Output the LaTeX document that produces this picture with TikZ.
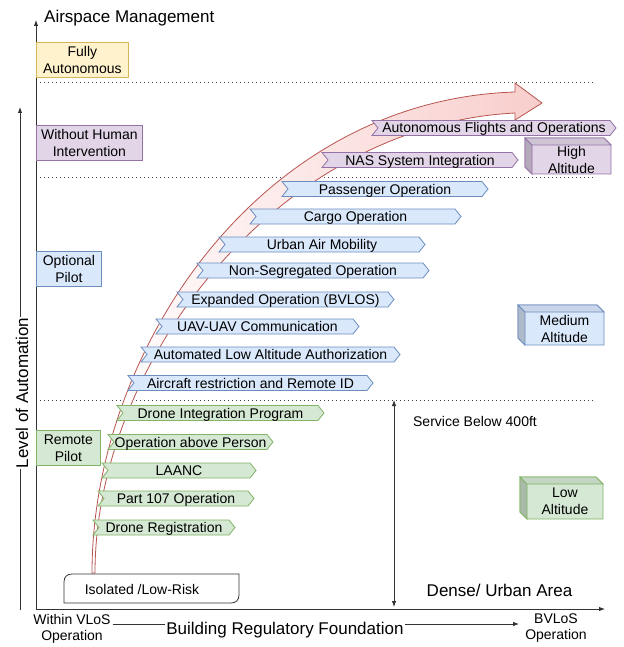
\documentclass[tikz,border=0pt]{standalone}
\usepackage{fontspec}
\setmainfont{Liberation Sans}
\usetikzlibrary{arrows.meta}
\definecolor{yellowfill}{HTML}{FFF2CC}\definecolor{yellowline}{HTML}{D6B656}
\definecolor{purplefill}{HTML}{E1D5E7}\definecolor{purpleline}{HTML}{9673A6}
\definecolor{bluefill}{HTML}{DAE8FC}\definecolor{blueline}{HTML}{6C8EBF}
\definecolor{greenfill}{HTML}{D5E8D4}\definecolor{greenline}{HTML}{82B366}
\definecolor{redfill}{HTML}{F8CECC}\definecolor{redline}{HTML}{B85450}
\definecolor{axisgray}{HTML}{333333}
\newcommand\chev[6]{%
  \draw[#2] (#3,#5-7.5) -- ({#4-6},#5-7.5) -- (#4,#5) -- ({#4-6},#5+7.5) -- (#3,#5+7.5) -- ({#3+6},#5) -- cycle;
  \node[lbl, anchor=base] (#1) at ({(#3+#4)/2},#5+5) {#6};}
\newcommand\cubebox[7]{% name, colour, L, T, R, B, text
  \draw[draw=#2line, fill=#2fill, line width=0.8pt] (#3,#4) -- ({#5-7},#4) -- (#5,#4+7) -- (#5,#6) -- ({#3+7},#6) -- (#3,#6-7) -- cycle;
  \draw[draw=#2line, fill=#2fill!80!black, line width=0.8pt] (#3,#4) -- ({#3+7},#4+7) -- ({#3+7},#6) -- (#3,#6-7) -- cycle;
  \draw[draw=#2line, fill=#2fill!92!black, line width=0.8pt] (#3,#4) -- ({#5-7},#4) -- (#5,#4+7) -- ({#3+7},#4+7) -- cycle;
  \node[lbl] (#1) at ({(#3+7+#5)/2},{(#4+7+#6)/2}) {#7};}
\tikzset{
  lbl/.style={font=\fontsize{14}{17}\selectfont, align=center, inner sep=0pt},
  big/.style={font=\fontsize{17}{20}\selectfont, inner sep=1pt},
  lvl/.style={draw=#1line, fill=#1fill, line width=0.8pt, minimum height=35pt, font=\fontsize{14}{17}\selectfont, align=center, inner sep=0pt, anchor=north west},
  ax/.style={line width=0.9pt, draw=axisgray, -{Latex[length=6pt,width=4.5pt]}},
  dax/.style={line width=0.8pt, draw=axisgray, {Latex[length=6pt,width=4.5pt]}-{Latex[length=6pt,width=4.5pt]}},
  dots/.style={line width=1pt, dash pattern=on 1pt off 3pt, draw=black!75},
  chb/.style={draw=blueline, fill=bluefill, line width=0.8pt},
  chp/.style={draw=purpleline, fill=purplefill, line width=0.8pt},
  chg/.style={draw=greenline, fill=greenfill, line width=0.8pt},
}
\begin{document}
\begin{tikzpicture}[x=1pt,y=-1pt]
\useasboundingbox (0,0) rectangle (623,647);
% dotted level separators
\draw[dots] (36,83) -- (593,83);
\draw[dots] (36,177) -- (593,177);
\draw[dots] (36,400) -- (593,400);
% axes
\coordinate (o) at (36,609);
\coordinate (ytop) at (36,20);
\coordinate (xend) at (605,609);
\draw[ax] (o) -- (ytop);
\draw[ax] (o) -- (xend);
\coordinate (lb) at (20,610);
\coordinate (lt) at (20,107);
\draw[ax] (lb) -- (lt);
\node[big, rotate=90, fill=white] (loa) at (22,393) {Level of Automation};
\node[big, anchor=base west, inner sep=0pt] (asm) at (44,23) {Airspace Management};
% level boxes
\node[lvl=yellow, minimum width=92pt] (fa) at (36,42) {Fully\\Autonomous};
\node[lvl=purple, minimum width=106pt] (whi) at (36,125) {Without Human\\Intervention};
\node[lvl=blue, minimum width=65pt] (op) at (36,251) {Optional\\Pilot};
\node[lvl=green, minimum width=64pt] (rp) at (36,430) {Remote\\Pilot};
% curved arrow
\shadedraw[draw=redline, line width=0.8pt, left color=white, right color=redfill]
  (92,573) .. controls (92,350) and (260,100) .. (515,92) -- (515,83) -- (542,103) -- (515,120) -- (515,113)
  .. controls (280,125) and (95,360) .. (95,573) -- cycle;
% chevrons
\chev{afo}{chp}{372}{616}{128}{Autonomous Flights and Operations}
\chev{nas}{chp}{322}{518}{160}{NAS System Integration}
\chev{pas}{chb}{282}{488}{189}{Passenger Operation}
\chev{car}{chb}{250}{461}{216.5}{Cargo Operation}
\chev{uam}{chb}{219}{425}{244.5}{Urban Air Mobility}
\chev{nso}{chb}{197}{429}{270.5}{Non-Segregated Operation}
\chev{exo}{chb}{177}{394}{299.5}{Expanded Operation (BVLOS)}
\chev{uav}{chb}{156}{359}{326.5}{UAV-UAV Communication}
\chev{ala}{chb}{141}{400}{354.5}{Automated Low Altitude Authorization}
\chev{arr}{chb}{128}{373}{383}{Aircraft restriction and Remote ID}
\chev{dip}{chg}{117}{324}{413}{Drone Integration Program}
\chev{oap}{chg}{108}{273}{442}{Operation above Person}
\chev{laa}{chg}{102}{256}{470.5}{LAANC}
\chev{p107}{chg}{98}{254}{498.5}{Part 107 Operation}
\chev{dreg}{chg}{93}{235}{527.5}{Drone Registration}
% altitude cubes
\cubebox{hia}{purple}{525}{138}{611}{174}{High\\Altitude}
\cubebox{mea}{blue}{518}{305}{604}{345}{Medium\\Altitude}
\cubebox{loa2}{green}{520}{477}{603}{519}{Low\\Altitude}
% service below 400ft
\coordinate (s1) at (394,400);
\coordinate (s2) at (394,607);
\draw[dax] (s1) -- (s2);
\node[lbl] (sb) at (475,421) {Service Below 400ft};
\node[big] (dua) at (499.5,590) {Dense/ Urban Area};
% isolated low-risk box
\draw[draw=axisgray, fill=white, line width=0.8pt] (64,603) -- (64,582) .. controls (64,577) and (67,574) .. (72,574) -- (239,574) -- (239,595) .. controls (239,600) and (236,603) .. (231,603) -- cycle;
\node[lbl] (ilr) at (142,589) {Isolated /Low-Risk};
% bottom axis labels
\node[lbl, font=\fontsize{14}{16}\selectfont] (within) at (72,629) {Within VLoS\\Operation};
\node[lbl, font=\fontsize{14}{16}\selectfont] (bvlos) at (556,628) {BVLoS\\Operation};
\draw[ax, line width=0.8pt] ([xshift=2pt,yshift=5pt]within.east) -- ([xshift=-6pt,yshift=4pt]bvlos.west);
\node[big, fill=white] (brf) at (285,630) {Building Regulatory Foundation};
\end{tikzpicture}
\end{document}
